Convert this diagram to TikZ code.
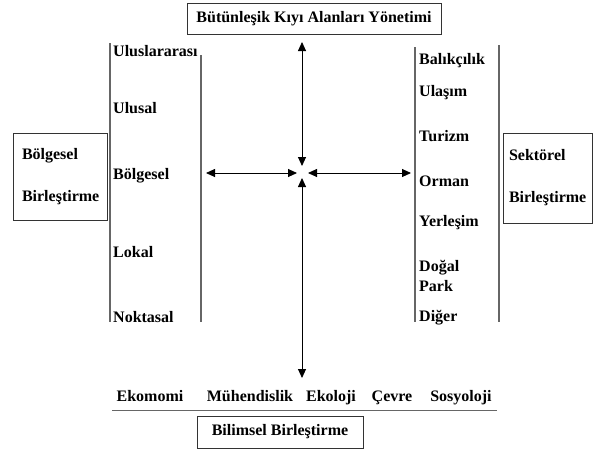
\documentclass[tikz,border=0pt]{standalone}
\usepackage{fontspec}
\setmainfont{Liberation Serif}
\usetikzlibrary{positioning,arrows.meta}

\begin{document}
\begin{tikzpicture}[x=1pt,y=-1pt,
		>={Triangle[length=9pt,width=8pt]},
		every node/.style={font=\bfseries\fontsize{16}{18}\selectfont},
		box/.style={draw=black!80, line width=0.9pt},
		sidebox/.style={box, align=left, minimum height=87, inner xsep=6pt},
		item/.style={anchor=base west, inner sep=0pt},
		col/.style={draw=black!60, line width=1.2pt},
		conn/.style={<->, line width=0.9pt}]
	\useasboundingbox (0,0) rectangle (593,450);

	\node[box, minimum width=254, minimum height=31] (ikzy) at (314,18.5) {Bütünleşik Kıyı Alanları Yönetimi};
	\node[sidebox, inner xsep=9pt, text width=76] (bolge) at (60,176.5) {Bölgesel\\[24pt]Birleştirme};
	\node[sidebox, text width=77, minimum height=90] (sektor) at (547.5,178) {Sektörel\\[24pt]Birleştirme};
	\node[box, minimum width=166, minimum height=32] (bilim) at (280,432) {Bilimsel Birleştirme};

	% olcek kolonu
	\draw[col] (110,43) -- (110,322);
	\draw[col] (201,55) -- (201,322);
	\foreach \n/\t/\y in {uluslar/Uluslararası/56, ulusal/Ulusal/113, bolgesel/Bölgesel/179, lokal/Lokal/257, noktasal/Noktasal/322}
		\node[item] (\n) at (113,\y) {\t};

	% sektor kolonu
	\draw[col] (415,47) -- (415,322);
	\draw[col] (499,45) -- (499,322);
	\foreach \n/\t/\y in {balik/Balıkçılık/64, ulasim/Ulaşım/96, turizm/Turizm/141, orman/Orman/186, yerlesim/Yerleşim/226, dogal/Doğal/271, park/Park/291, diger/Diğer/321}
		\node[item] (\n) at (419,\y) {\t};

	% bilim dallari
	\foreach \n/\t/\x in {ekonomi/Ekomomi/150, muhendis/Mühendislik/250, ekoloji/Ekoloji/331, cevre/Çevre/392, sosyo/Sosyoloji/461}
		\node[inner sep=0pt, anchor=base] (\n) at (\x,401) {\t};
	\draw[col, line width=1pt] (112,410) -- (497,410);

	\coordinate (up) at (302,42);
	\coordinate (cn) at (302,166);
	\coordinate (cs) at (302,178);
	\coordinate (dn) at (302,378);
	\coordinate (lf) at (206,173);
	\coordinate (cw) at (297,173);
	\coordinate (ce) at (308,173);
	\coordinate (rt) at (411,173);
	\draw[conn] (up) -- (cn);
	\draw[conn] (cs) -- (dn);
	\draw[conn] (lf) -- (cw);
	\draw[conn] (ce) -- (rt);
\end{tikzpicture}
\end{document}
